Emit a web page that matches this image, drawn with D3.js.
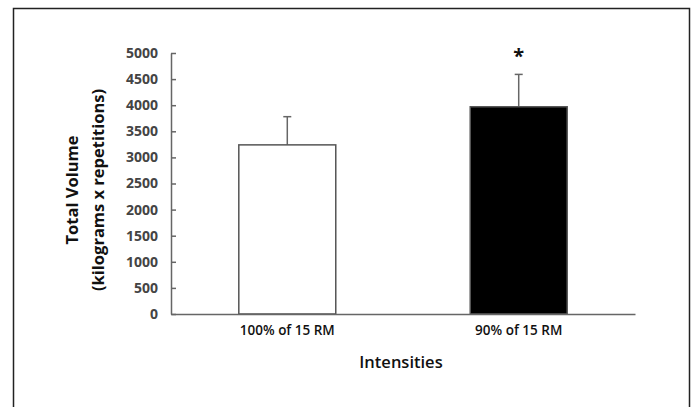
<!DOCTYPE html>
<html>
<head>
<meta charset="utf-8">
<script src="https://cdn.jsdelivr.net/npm/d3@7"></script>
<style>
    body { margin: 0; background: #fff; }
    svg { display: block; }
    svg text { font-family: "Open Sans", "DejaVu Sans", sans-serif; }
    .axis path, .axis line { stroke: #666; stroke-width: 1.5; }
    .y-axis text { fill: #444; font-size: 14px; font-weight: 700; }
    .x-axis text { fill: #111; font-size: 13.5px; font-weight: 600; }
</style>
</head>
<body>
<svg id="chart"></svg>
<script>
// Data
const categories = ['100% of 15 RM', '90% of 15 RM'];
const means = [3240, 3970];
const errorTops = [3780, 4590];
const barFills = ['#ffffff', '#000000'];
const significant = [false, true];
const yTicks = [0, 500, 1000, 1500, 2000, 2500, 3000, 3500, 4000, 4500, 5000];

const width = 695, height = 407;
const svg = d3.select('#chart').attr('width', width).attr('height', height);

// Frame
svg.append('rect')
    .attr('x', 13.5).attr('y', 8.5)
    .attr('width', 676).attr('height', 420)
    .attr('fill', 'none').attr('stroke', '#222').attr('stroke-width', 1.5);

// Scales
const x = d3.scaleBand()
    .domain(categories)
    .range([171, 635])
    .paddingInner(0.581)
    .paddingOuter(0.293);

const y = d3.scaleLinear().domain([0, 5000]).range([314, 53]);

// Bars
const bars = svg.append('g').selectAll('g')
    .data(categories.map((c, i) => ({ c, m: means[i], e: errorTops[i], fill: barFills[i], sig: significant[i] })))
    .join('g');

// Error bars (upper only)
bars.append('line')
    .attr('x1', d => x(d.c) + x.bandwidth() / 2)
    .attr('x2', d => x(d.c) + x.bandwidth() / 2)
    .attr('y1', d => y(d.m))
    .attr('y2', d => y(d.e))
    .attr('stroke', '#666').attr('stroke-width', 1.5);

bars.append('line')
    .attr('x1', d => x(d.c) + x.bandwidth() / 2 - 4)
    .attr('x2', d => x(d.c) + x.bandwidth() / 2 + 4)
    .attr('y1', d => y(d.e))
    .attr('y2', d => y(d.e))
    .attr('stroke', '#666').attr('stroke-width', 1.5);

bars.append('rect')
    .attr('x', d => x(d.c))
    .attr('y', d => y(d.m))
    .attr('width', x.bandwidth())
    .attr('height', d => y(0) - y(d.m))
    .attr('fill', d => d.fill)
    .attr('stroke', '#555').attr('stroke-width', 1.5);

// Significance marker
bars.filter(d => d.sig).append('text')
    .attr('x', d => x(d.c) + x.bandwidth() / 2)
    .attr('y', d => y(d.e) - 11)
    .attr('text-anchor', 'middle')
    .attr('font-size', 20).attr('font-weight', 700)
    .attr('fill', '#111')
    .text('*');

// Axes
const yAxis = d3.axisLeft(y).tickValues(yTicks).tickFormat(d3.format('d'))
    .tickSizeInner(-5).tickSizeOuter(0).tickPadding(13);
svg.append('g').attr('class', 'axis y-axis')
    .attr('transform', 'translate(171,0)')
    .call(yAxis);

const xAxis = d3.axisBottom(x).tickSize(0).tickPadding(11);
svg.append('g').attr('class', 'axis x-axis')
    .attr('transform', 'translate(0,314)')
    .call(xAxis);

// Axis titles
svg.append('text')
    .attr('x', 401).attr('y', 368)
    .attr('text-anchor', 'middle')
    .attr('font-size', 16.5).attr('font-weight', 600)
    .attr('fill', '#111')
    .text('Intensities');

const yTitle = svg.append('text')
    .attr('transform', 'translate(72,190) rotate(-90)')
    .attr('text-anchor', 'middle')
    .attr('font-size', 16.5).attr('font-weight', 700)
    .attr('fill', '#111');
yTitle.append('tspan').attr('x', 0).attr('y', 0).attr('dy', '0.35em').text('Total Volume');
yTitle.append('tspan').attr('x', 0).attr('y', 26).attr('dy', '0.35em').text('(kilograms x repetitions)');
</script>
</body>
</html>
